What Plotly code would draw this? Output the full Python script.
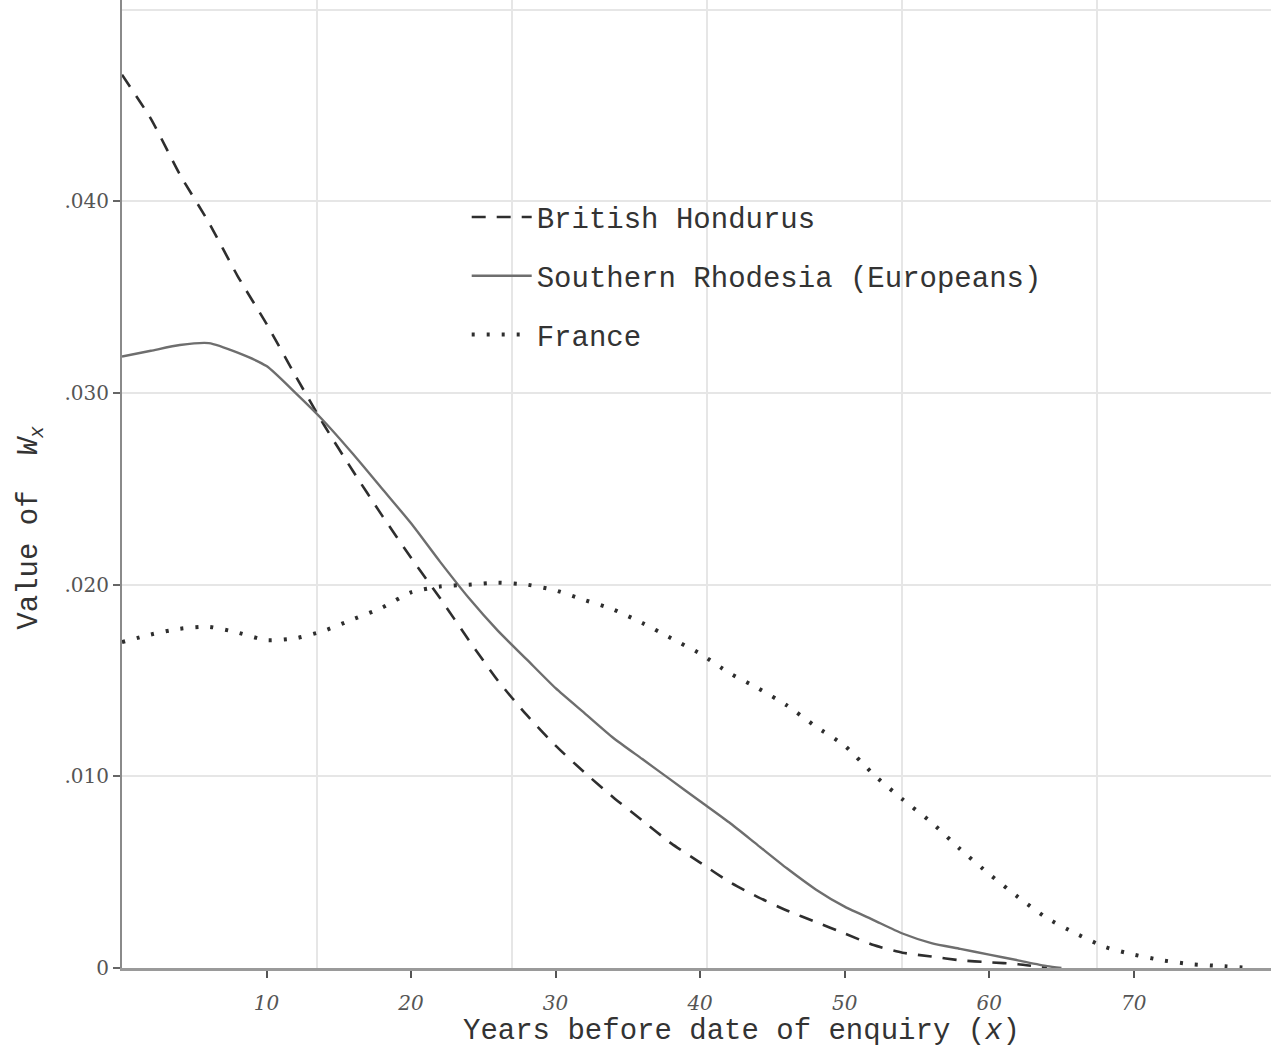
import plotly.graph_objects as go

# ---- data ----
years = [0, 2, 4, 6, 8, 10, 12, 14, 16, 18, 20, 22, 24, 26, 28, 30, 32, 34, 36, 38,
         40, 42, 44, 46, 48, 50, 52, 54, 56, 58, 60, 62, 64]

british_honduras = [0.0466, 0.0443, 0.0414, 0.0389, 0.0361, 0.0336, 0.0309, 0.0283,
                    0.0259, 0.0236, 0.0214, 0.0193, 0.0171, 0.0150, 0.0132, 0.0116,
                    0.0102, 0.0089, 0.0077, 0.0065, 0.0055, 0.0045, 0.0037, 0.0030,
                    0.0024, 0.0018, 0.0012, 0.0008, 0.0006, 0.0004, 0.0003, 0.0002, 0.0]

years_sr = years + [65]
southern_rhodesia = [0.0319, 0.0322, 0.0325, 0.0326, 0.0321, 0.0314, 0.0300, 0.0285,
                     0.0268, 0.0250, 0.0232, 0.0212, 0.0193, 0.0176, 0.0161, 0.0146,
                     0.0133, 0.0120, 0.0109, 0.0098, 0.0087, 0.0076, 0.0064, 0.0052,
                     0.0041, 0.0032, 0.0025, 0.0018, 0.0013, 0.0010, 0.0007, 0.0004,
                     0.0001, 0.0]

years_fr = years + [66, 68, 70, 72, 74, 76, 78]
france = [0.0170, 0.0174, 0.0177, 0.0178, 0.0175, 0.0171, 0.0172, 0.0176, 0.0182,
          0.0188, 0.0196, 0.0199, 0.0200, 0.0201, 0.0200, 0.0197, 0.0192, 0.0187,
          0.0180, 0.0172, 0.0164, 0.0154, 0.0146, 0.0137, 0.0126, 0.0116, 0.0101,
          0.0088, 0.0076, 0.0062, 0.0049, 0.0037, 0.0026, 0.0018, 0.0011, 0.0007,
          0.0004, 0.0002, 0.0001, 0.0]

x_ticks = [10, 20, 30, 40, 50, 60, 70]
x_tick_labels = ["10", "20", "30", "40", "50", "60", "70"]
y_ticks = [0, 0.01, 0.02, 0.03, 0.04]
y_tick_labels = ["0", ".010", ".020", ".030", ".040"]
y_grid = [0, 0.01, 0.02, 0.03, 0.04, 0.05]

series_names = ["British Hondurus", "Southern Rhodesia (Europeans)", "France"]

TYPE = "Liberation Mono"
HAND = "DejaVu Serif"

fig = go.Figure()
fig.add_trace(go.Scatter(x=years, y=british_honduras, mode="lines", name=series_names[0],
                         line=dict(color="#2e2e2e", width=2.6, dash="14px,11px",
                                   shape="spline", smoothing=0.6),
                         legendgroup="a"))
fig.add_trace(go.Scatter(x=years_sr, y=southern_rhodesia, mode="lines", name=series_names[1],
                         line=dict(color="#6e6e6e", width=2.4, shape="spline", smoothing=0.6),
                         legendgroup="b"))
fig.add_trace(go.Scatter(x=years_fr, y=france, mode="lines", name=series_names[2],
                         line=dict(color="#2e2e2e", width=4, dash="3px,12px",
                                   shape="spline", smoothing=0.6),
                         legendgroup="c"))
# empty helper trace so the graph-paper grid axes are drawn
fig.add_trace(go.Scatter(x=[None], y=[None], xaxis="x2", yaxis="y2", mode="lines",
                         showlegend=False, hoverinfo="skip"))

fig.update_layout(
    width=1271, height=1057,
    margin=dict(l=122, r=0, t=0, b=89),
    paper_bgcolor="white", plot_bgcolor="white",
    showlegend=True,
    legend=dict(x=0.30, y=0.802, xanchor="left", yanchor="top",
                font=dict(family=TYPE, size=29, color="#333333"),
                bgcolor="rgba(0,0,0,0)", tracegroupgap=18, itemwidth=60),
    xaxis=dict(range=[0, 79.5], tickvals=x_ticks, ticktext=x_tick_labels,
               showgrid=False, zeroline=False,
               showline=True, linecolor="#9a9a9a", linewidth=3,
               ticks="outside", ticklen=7, tickwidth=2, tickcolor="#555",
               ticklabelstandoff=8,
               tickfont=dict(family=HAND, size=20, color="#555555", style="italic")),
    xaxis2=dict(overlaying="x", range=[0, 5.892], dtick=1, tick0=0,
                showgrid=True, gridcolor="#e6e6e6", gridwidth=1.5,
                showticklabels=False, zeroline=False, showline=False, ticks=""),
    yaxis=dict(range=[0, 0.0505], tickvals=y_ticks, ticktext=y_tick_labels,
               showgrid=False, zeroline=False,
               showline=True, linecolor="#8a8a8a", linewidth=2,
               ticks="outside", ticklen=7, tickwidth=2, tickcolor="#666",
               tickfont=dict(family=HAND, size=20, color="#555555")),
    yaxis2=dict(overlaying="y", range=[0, 0.0505], tickvals=y_grid,
                showgrid=True, gridcolor="#e6e6e6", gridwidth=1.5,
                showticklabels=False, zeroline=False, showline=False, ticks=""),
    annotations=[
        dict(text="Years before date of enquiry (<i>x</i>)", xref="paper", yref="paper",
             x=0.539, y=-0.066, xanchor="center", yanchor="middle", showarrow=False,
             font=dict(family=TYPE, size=29, color="#333333")),
        dict(text="Value of  <i>W<sub>x</sub></i>", xref="paper", yref="paper",
             x=-0.080, y=0.455, xanchor="center", yanchor="middle", showarrow=False,
             textangle=-90, font=dict(family=TYPE, size=29, color="#333333")),
    ],
)

fig.write_html("out.html")
